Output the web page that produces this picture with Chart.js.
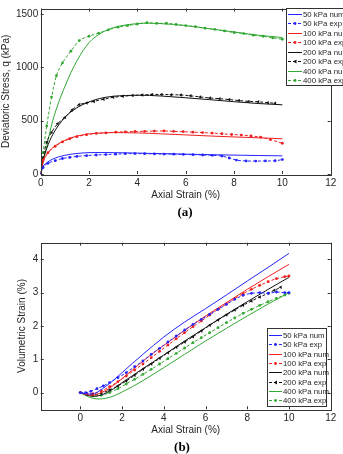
<!DOCTYPE html>
<html>
<head>
<meta charset="utf-8">
<script src="https://cdn.jsdelivr.net/npm/chart.js@4.4.1/dist/chart.umd.min.js"></script>
<style>
  html, body { margin: 0; padding: 0; background: #fff; overflow: hidden; }
  body { width: 343px; height: 454px; position: relative; }
  canvas { position: absolute; left: 0; }
  #chartA { top: 0; width: 343px; height: 205px; }
  #chartB { top: 227px; width: 343px; height: 212px; }
  .panel { position: absolute; width: 40px; text-align: center; font: bold 13px "Liberation Serif", "DejaVu Serif", serif; color: #000; }
</style>
</head>
<body>
<canvas id="chartA" width="343" height="205"></canvas>
<div class="panel" style="left:165px; top:204px;">(a)</div>
<canvas id="chartB" width="343" height="212"></canvas>
<div class="panel" style="left:162px; top:439px;">(b)</div>
<script>
// ---- (a) deviatoric stress vs axial strain ----
const xTicksA = [0, 2, 4, 6, 8, 10, 12];
const yTicksA = [0, 500, 1000, 1500];

const strainNumA = [0, 0.1, 0.25, 0.5, 1, 1.5, 2, 2.5, 3, 3.5, 4, 4.5, 5, 6, 7, 8, 9, 10];
const q50Num  = [0, 70, 105, 140, 175, 192, 200, 201, 200, 198, 196, 193, 191, 186, 181, 177, 173, 170];
const q100Num = [0, 110, 180, 245, 315, 355, 375, 384, 388, 387, 385, 381, 376, 366, 356, 347, 339, 330];
const q200Num = [0, 130, 240, 370, 530, 620, 675, 710, 728, 735, 738, 736, 730, 714, 696, 677, 660, 648];
const q400Num = [0, 110, 260, 500, 820, 1060, 1230, 1320, 1370, 1395, 1408, 1412, 1408, 1390, 1360, 1330, 1300, 1278];

const strain50ExpA = [0, 0.1, 0.3, 0.6, 0.9, 1.2, 1.5, 1.9, 2.3, 2.7, 3.1, 3.5, 3.9, 4.3, 4.7, 5.1, 5.5, 5.9, 6.3, 6.7, 7.1, 7.5, 7.8, 8.1, 8.5, 8.9, 9.3, 9.7, 10];
const q50Exp = [0, 60, 100, 125, 145, 155, 165, 172, 178, 182, 186, 190, 191, 190, 188, 187, 186, 183, 181, 178, 175, 168, 150, 130, 122, 121, 122, 124, 135];
const strain100ExpA = [0, 0.1, 0.3, 0.6, 0.9, 1.2, 1.5, 1.9, 2.3, 2.7, 3.1, 3.5, 3.9, 4.3, 4.7, 5.1, 5.5, 5.9, 6.3, 6.7, 7.1, 7.5, 7.9, 8.3, 8.7, 9.1, 9.5, 10];
const q100Exp = [0, 130, 200, 260, 300, 330, 350, 368, 380, 385, 392, 395, 398, 400, 402, 403, 400, 396, 392, 388, 383, 377, 370, 365, 356, 345, 322, 288];
const strain200ExpA = [0, 0.1, 0.25, 0.45, 0.7, 1, 1.3, 1.6, 1.9, 2.2, 2.6, 3, 3.4, 3.8, 4.2, 4.6, 5, 5.4, 5.8, 6.2, 6.6, 7, 7.4, 7.8, 8.2, 8.6, 9, 9.4, 9.7];
const q200Exp = [0, 150, 300, 390, 470, 530, 600, 650, 665, 680, 700, 718, 728, 735, 740, 745, 745, 743, 740, 732, 722, 712, 705, 697, 688, 680, 676, 668, 662];
const strain400ExpA = [0, 0.1, 0.25, 0.45, 0.65, 0.9, 1.25, 1.6, 2, 2.4, 2.8, 3.2, 3.6, 4, 4.4, 4.8, 5.2, 5.6, 6, 6.4, 6.8, 7.2, 7.6, 8, 8.4, 8.8, 9.2, 9.6, 10];
const q400Exp = [0, 200, 450, 720, 920, 1040, 1150, 1250, 1290, 1320, 1350, 1375, 1390, 1405, 1418, 1410, 1412, 1400, 1390, 1380, 1365, 1355, 1340, 1325, 1315, 1300, 1290, 1275, 1262];

// ---- (b) volumetric strain vs axial strain ----
const xTicksB = [0, 2, 4, 6, 8, 10, 12];
const yTicksB = [0, 1, 2, 3, 4];

const strainNumB = [0, 0.3, 0.6, 0.9, 1.2, 1.6, 2, 2.5, 3, 4, 5, 6, 7, 8, 9, 10];
const ev50Num  = [0, -0.04, -0.04, 0.05, 0.18, 0.38, 0.6, 0.88, 1.15, 1.67, 2.12, 2.52, 2.93, 3.35, 3.76, 4.18];
const ev100Num = [0, -0.06, -0.08, -0.03, 0.06, 0.22, 0.42, 0.68, 0.95, 1.42, 1.87, 2.3, 2.7, 3.1, 3.48, 3.85];
const ev200Num = [0, -0.07, -0.11, -0.09, -0.02, 0.12, 0.3, 0.51, 0.72, 1.13, 1.55, 1.95, 2.35, 2.73, 3.1, 3.46];
const ev400Num = [0, -0.1, -0.17, -0.19, -0.17, -0.1, 0.02, 0.18, 0.36, 0.75, 1.15, 1.55, 1.93, 2.3, 2.66, 3.0];

const strain50ExpB = [0, 0.25, 0.5, 0.8, 1.1, 1.4, 1.8, 2.2, 2.6, 3, 3.4, 3.8, 4.2, 4.6, 5, 5.4, 5.8, 6.2, 6.6, 7, 7.4, 7.8, 8.2, 8.6, 9, 9.4, 9.8, 10];
const ev50Exp = [0, 0.0, 0.04, 0.12, 0.2, 0.3, 0.45, 0.6, 0.78, 0.95, 1.15, 1.33, 1.52, 1.7, 1.88, 2.05, 2.2, 2.35, 2.5, 2.65, 2.8, 2.92, 2.98, 3.0, 2.98, 3.02, 3.0, 3.0];
const strain100ExpB = [0, 0.3, 0.6, 1, 1.4, 1.8, 2.2, 2.6, 3, 3.4, 3.8, 4.2, 4.6, 5, 5.4, 5.8, 6.2, 6.6, 7, 7.4, 7.8, 8.2, 8.6, 9, 9.4, 9.8, 10];
const ev100Exp = [0, -0.04, -0.03, 0.05, 0.18, 0.33, 0.5, 0.68, 0.86, 1.05, 1.24, 1.43, 1.62, 1.8, 1.98, 2.15, 2.33, 2.5, 2.66, 2.82, 2.97, 3.1, 3.22, 3.33, 3.42, 3.48, 3.5];
const strain200ExpB = [0, 0.3, 0.6, 1, 1.4, 1.8, 2.2, 2.6, 3, 3.4, 3.8, 4.2, 4.6, 5, 5.4, 5.8, 6.2, 6.6, 7, 7.4, 7.8, 8.2, 8.6, 9, 9.3, 9.6];
const ev200Exp = [0, -0.05, -0.06, -0.02, 0.08, 0.2, 0.35, 0.52, 0.7, 0.86, 1.03, 1.2, 1.36, 1.52, 1.68, 1.85, 2.02, 2.18, 2.33, 2.48, 2.62, 2.75, 2.87, 2.98, 3.07, 3.16];
const strain400ExpB = [0, 0.3, 0.6, 1, 1.4, 1.8, 2.2, 2.6, 3, 3.4, 3.8, 4.2, 4.6, 5, 5.4, 5.8, 6.2, 6.6, 7, 7.4, 7.8, 8.2, 8.6, 9, 9.4, 9.8, 10];
const ev400Exp = [0, -0.06, -0.1, -0.08, 0.0, 0.12, 0.26, 0.4, 0.55, 0.7, 0.86, 1.02, 1.18, 1.34, 1.5, 1.65, 1.8, 1.95, 2.1, 2.24, 2.38, 2.5, 2.62, 2.73, 2.83, 2.93, 2.98];

const seriesLabels = ['50 kPa num', '50 kPa exp', '100 kPa num', '100 kPa exp', '200 kPa num', '200 kPa exp', '400 kPa num', '400 kPa exp'];
const seriesColors = ['#2424ff', '#2424ff', '#f02020', '#f02020', '#111111', '#111111', '#33a833', '#33a833'];

const FONT = '"Liberation Sans", Arial, sans-serif';
const TEXT = '#262626';

function pts(xs, ys) {
    return xs.map((x, i) => ({ x: x, y: ys[i] }));
}

function makeDatasets(list) {
    return list.map((d, i) => {
        const exp = i % 2 === 1;
        const black = i === 5;
        return {
            label: seriesLabels[i],
            data: pts(d[0], d[1]),
            borderColor: seriesColors[i],
            backgroundColor: seriesColors[i],
            borderWidth: 1,
            borderDash: exp ? [3, 2] : [],
            pointRadius: exp ? (black ? 2 : 1.4) : 0,
            pointStyle: black ? 'triangle' : 'circle',
            pointRotation: black ? -90 : 0,
            pointBorderWidth: 0,
            cubicInterpolationMode: 'monotone',
            fill: false
        };
    });
}

// box with inward ticks, MATLAB style
const boxTicks = {
    id: 'boxTicks',
    afterDatasetsDraw(chart) {
        const { ctx, chartArea: a, scales } = chart;
        ctx.save();
        ctx.strokeStyle = '#333';
        ctx.lineWidth = 1;
        ctx.beginPath();
        scales.x.ticks.forEach(t => {
            const px = Math.round(scales.x.getPixelForValue(t.value)) + 0.5;
            ctx.moveTo(px, a.bottom); ctx.lineTo(px, a.bottom - 3);
            ctx.moveTo(px, a.top); ctx.lineTo(px, a.top + 3);
        });
        scales.y.ticks.forEach(t => {
            const py = Math.round(scales.y.getPixelForValue(t.value)) + 0.5;
            ctx.moveTo(a.left, py); ctx.lineTo(a.left + 3, py);
            ctx.moveTo(a.right, py); ctx.lineTo(a.right - 3, py);
        });
        ctx.stroke();
        ctx.strokeRect(Math.round(a.left) + 0.5, Math.round(a.top) + 0.5,
            Math.round(a.right - a.left), Math.round(a.bottom - a.top));
        ctx.restore();
    }
};

// legend box placed inside the axes
const boxLegend = {
    id: 'boxLegend',
    afterDraw(chart, args, o) {
        const ctx = chart.ctx;
        ctx.save();
        ctx.fillStyle = '#fff';
        ctx.fillRect(o.x, o.y, o.w, o.h);
        ctx.strokeStyle = '#333';
        ctx.lineWidth = 1;
        ctx.strokeRect(o.x + 0.5, o.y + 0.5, o.w, o.h);
        ctx.font = '7.8px ' + FONT;
        ctx.textBaseline = 'middle';
        chart.data.datasets.forEach((ds, i) => {
            const y = Math.round(o.rowY + i * o.rowGap) + 0.5;
            ctx.strokeStyle = ds.borderColor;
            ctx.setLineDash(ds.borderDash);
            ctx.beginPath();
            ctx.moveTo(o.lineX0, y);
            ctx.lineTo(o.lineX1, y);
            ctx.stroke();
            ctx.setLineDash([]);
            if (ds.pointRadius > 0) {
                const cx = (o.lineX0 + o.lineX1) / 2;
                ctx.fillStyle = ds.borderColor;
                ctx.beginPath();
                if (ds.pointStyle === 'triangle') {
                    ctx.moveTo(cx - 2, y); ctx.lineTo(cx + 1.5, y - 2); ctx.lineTo(cx + 1.5, y + 2);
                } else {
                    ctx.arc(cx, y, ds.pointRadius, 0, Math.PI * 2);
                }
                ctx.fill();
            }
            ctx.fillStyle = TEXT;
            ctx.fillText(ds.label, o.textX, y);
        });
        ctx.restore();
    }
};

function axis(cfg) {
    return {
        type: 'linear',
        min: cfg.min,
        max: cfg.max,
        afterBuildTicks: s => { s.ticks = cfg.ticks.map(v => ({ value: v })); },
        afterFit: cfg.fit,
        grid: { display: false, drawTicks: false },
        border: { display: false },
        ticks: {
            font: { family: FONT, size: 10 }, color: TEXT, padding: cfg.pad, maxRotation: 0,
            callback: v => String(v)
        },
        title: { display: true, text: cfg.title, font: { family: FONT, size: 10 }, color: TEXT, padding: cfg.titlePad }
    };
}

function makeChart(id, datasets, xCfg, yCfg, padding, legendOpts) {
    return new Chart(document.getElementById(id).getContext('2d'), {
        type: 'line',
        data: { datasets: datasets },
        options: {
            responsive: false,
            animation: false,
            layout: { padding: padding },
            scales: { x: axis(xCfg), y: axis(yCfg) },
            plugins: {
                legend: { display: false },
                tooltip: { enabled: false },
                boxLegend: legendOpts
            }
        },
        plugins: [boxTicks, boxLegend]
    });
}

makeChart('chartA',
    makeDatasets([
        [strainNumA, q50Num], [strain50ExpA, q50Exp],
        [strainNumA, q100Num], [strain100ExpA, q100Exp],
        [strainNumA, q200Num], [strain200ExpA, q200Exp],
        [strainNumA, q400Num], [strain400ExpA, q400Exp]
    ]),
    { min: 0, max: 12, ticks: xTicksA, pad: 3, title: 'Axial Strain (%)', titlePad: { top: 0, bottom: 4 }, fit: s => { s.height = 31; } },
    { min: 0, max: 1550, ticks: yTicksA, pad: 2.5, title: 'Deviatoric Stress, q (kPa)', titlePad: { top: 0, bottom: 0 }, fit: s => { s.width = 40.7; } },
    { top: 8.5, right: 12.3, left: 0, bottom: 0 },
    { x: 286, y: 8, w: 70, h: 77, rowY: 14, rowGap: 9.45, lineX0: 288, lineX1: 302, textX: 303 }
);

makeChart('chartB',
    makeDatasets([
        [strainNumB, ev50Num], [strain50ExpB, ev50Exp],
        [strainNumB, ev100Num], [strain100ExpB, ev100Exp],
        [strainNumB, ev200Num], [strain200ExpB, ev200Exp],
        [strainNumB, ev400Num], [strain400ExpB, ev400Exp]
    ]),
    { min: -1.9, max: 12, ticks: xTicksB, pad: 3, title: 'Axial Strain (%)', titlePad: { top: 0, bottom: 3 }, fit: s => { s.height = 29.7; } },
    { min: -0.5, max: 4.5, ticks: yTicksB, pad: 2.5, title: 'Volumetric Strain (%)', titlePad: { top: 16, bottom: 0 }, fit: s => { s.width = 40.7; } },
    { top: 15.7, right: 12.3, left: 0, bottom: 0 },
    { x: 267, y: 101, w: 59, h: 78, rowY: 108, rowGap: 9.3, lineX0: 269, lineX1: 282, textX: 283 }
);
</script>
</body>
</html>
